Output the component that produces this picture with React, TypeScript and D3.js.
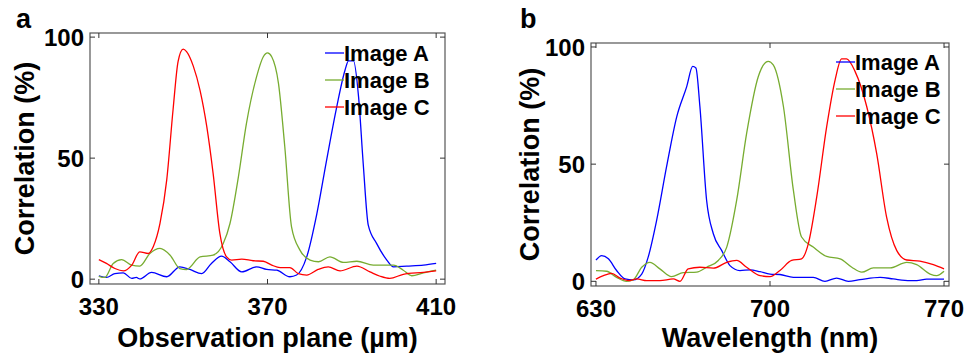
import React from "react";
import * as d3 from "d3";

// panel a: observation plane (µm)
const planeA_x = [330, 331.8, 333.8, 335.8, 337.8, 338.9, 339.7, 342.5, 346.1, 349.2, 351.6, 354.4, 356.7, 359.1, 361.1, 363.9, 367.4, 369.8, 372.2, 375.3, 376.9, 379.3, 381.7, 384, 386.4, 388.4, 389.2, 390.4, 391.6, 392.7, 393.9, 395.9, 398.3, 399.9, 403, 407, 410];
const planeA_y = [1.4, 0.7, 2.3, 2.6, 0.3, 0.7, 0.1, 2.8, 1, 5.1, 4, 2.3, 6.5, 9.5, 7.2, 3, 5.1, 4, 3.7, 1, 1.7, 9.2, 27, 49, 71, 86.4, 90.2, 90.2, 75.3, 47.8, 22.3, 14.7, 7.9, 5.1, 5.4, 5.8, 6.5];
const planeB_x = [330, 331.4, 333.4, 335.4, 337.8, 339.7, 342.1, 344.5, 346.9, 349.2, 350.8, 354, 357.1, 359.5, 361.1, 363.1, 365, 367.4, 369, 370, 371, 372.6, 374.1, 375.7, 377.7, 380.1, 382.1, 384.8, 388, 391.2, 395.1, 399.9, 402.2, 404.2, 407, 410];
const planeB_y = [1.2, 0.7, 6.5, 8.1, 5.8, 5.4, 10.6, 12.7, 9.9, 4.4, 4, 9.2, 9.9, 14.7, 23, 42.3, 64.3, 83.6, 91.9, 93.5, 91.9, 80.9, 54.7, 21.6, 12, 7.9, 7.2, 9.2, 6.9, 7.4, 5.8, 5.8, 3.7, 1.4, 2.6, 3.7];
const planeC_x = [330, 331.8, 333.8, 335.8, 337.8, 339.7, 341.7, 342.9, 344.5, 346.1, 347.6, 348.8, 350, 350.8, 352.4, 354, 355.6, 357.1, 358.7, 360.3, 361.5, 363.9, 366.6, 369, 371, 373, 375.3, 377.3, 379.3, 382, 384.4, 387.2, 391.2, 394.3, 396.7, 399, 402.2, 407, 410];
const planeC_y = [8.1, 6.5, 4.4, 3.4, 5.8, 11.3, 10.6, 13.4, 23, 41, 70, 90, 95, 94, 88, 78, 63, 43.7, 18.9, 9.2, 7.9, 8.3, 7.6, 7.4, 5.8, 4.8, 4.8, 2.3, 1.7, 4, 5.1, 3.4, 5.4, 3, 1.2, 0.3, 2, 2.8, 3.4];

// panel b: wavelength (nm)
const waveA_x = [630, 632.3, 635, 638.3, 641.7, 645, 648.4, 651, 654.4, 658.4, 662.5, 666.5, 668.9, 670.2, 671.8, 674.5, 677.2, 680.6, 683.9, 687.9, 692, 696, 700, 704, 709.4, 717.4, 722.1, 726.8, 731.5, 736.2, 744.3, 749.6, 756.3, 759, 763, 770];
const waveA_y = [9.1, 11, 9.6, 4.6, 1, 0.6, 3.1, 10.3, 26, 48.9, 70.3, 83.1, 91.7, 91, 74.6, 34.6, 20.3, 13.1, 6.7, 4.6, 4.9, 4.1, 3.1, 2.9, 1.7, 1.7, 0, 1.4, 0, 0.7, 1.7, 1, 0.3, 0.3, 0.9, 0.9];
const waveB_x = [630, 634.3, 638.3, 642.3, 645, 648.4, 651.7, 655.7, 660.4, 665.1, 670.5, 674.5, 679.2, 682.6, 686.6, 690.6, 695.3, 699.3, 701.3, 705.4, 709.4, 712.7, 717.4, 722.8, 728.2, 732.9, 736.9, 741.6, 748.3, 755, 759, 764.4, 767, 770];
const waveB_y = [4.6, 4.3, 1.7, 0, 0.6, 6, 8.1, 5.3, 2, 3.7, 3.9, 6, 8.9, 14.6, 34.6, 63.1, 87.4, 93.9, 92.4, 74.6, 38.9, 18.9, 14.6, 10.6, 9.6, 6, 3.9, 5.7, 5.7, 8.1, 7.1, 3.1, 2.4, 4.3];
const waveC_x = [630, 633, 636.3, 639.7, 643, 646.4, 650.4, 655.7, 661.1, 663.8, 667.1, 671.8, 677.2, 682.6, 686.6, 690.6, 696, 700, 704, 708.7, 712.7, 715.4, 718.8, 722.8, 726.2, 728.8, 730.8, 734.2, 738.9, 742.9, 746.9, 751, 755, 760.3, 765.7, 770];
const waveC_y = [0.9, 2.4, 3.4, 1.4, 0.3, 1, 0.3, 0.3, 1, 0, 5.3, 6, 5.6, 8.1, 8.9, 6, 2.4, 2, 4.6, 8.9, 9.6, 16, 36, 66, 86, 94.9, 94.9, 89.6, 74.6, 54.6, 27.4, 13.1, 9.1, 8.6, 7.1, 5.3];

const seriesNames = ["Image A", "Image B", "Image C"];
const seriesColors = ["#0000ff", "#77ac30", "#ff0000"];
const yTicks = [0, 50, 100];
const planeTicks = [330, 370, 410];
const waveTicks = [630, 700, 770];

const FONT = "'Liberation Sans', Arial, sans-serif";

type PanelProps = {
  letter: string;
  xLabel: string;
  xDomain: [number, number];
  xTicks: number[];
  xs: number[][];
  ys: number[][];
  box: { left: number; right: number; top: number; bottom: number };
  legend: { lineX: number; y0: number };
  letterX: number;
  yLabelX: number;
};

function Panel({ letter, xLabel, xDomain, xTicks, xs, ys, box, legend, letterX, yLabelX }: PanelProps) {
  const x = d3.scaleLinear().domain(xDomain).range([box.left, box.right]);
  const y = d3.scaleLinear().domain([-2, 101.7]).range([box.bottom, box.top]);
  const tick = 5;
  const midX = (box.left + box.right) / 2;
  const midY = (box.top + box.bottom) / 2;

  return (
    <g fontFamily={FONT} fontWeight="bold">
      <text x={letterX} y={28} fontSize={27}>{letter}</text>

      {/* curves */}
      {xs.map((xv, i) => {
        const pts: [number, number][] = xv.map((v, j) => [v, ys[i][j]]);
        const line = d3
          .line<[number, number]>()
          .x((d) => x(d[0]))
          .y((d) => y(d[1]))
          .curve(d3.curveMonotoneX);
        return (
          <path key={i} d={line(pts) || ""} fill="none" stroke={seriesColors[i]} strokeWidth={1.3} />
        );
      })}

      {/* box + inward ticks */}
      <rect
        x={box.left}
        y={box.top}
        width={box.right - box.left}
        height={box.bottom - box.top}
        fill="none"
        stroke="#555"
        strokeWidth={1.2}
      />
      {xTicks.map((t) => (
        <g key={"x" + t}>
          <line x1={x(t)} x2={x(t)} y1={box.bottom} y2={box.bottom - tick} stroke="#333" />
          <line x1={x(t)} x2={x(t)} y1={box.top} y2={box.top + tick} stroke="#333" />
          <text x={x(t)} y={box.bottom + 31} fontSize={24} textAnchor="middle">{t}</text>
        </g>
      ))}
      {yTicks.map((t) => (
        <g key={"y" + t}>
          <line x1={box.left} x2={box.left + tick} y1={y(t)} y2={y(t)} stroke="#333" />
          <line x1={box.right} x2={box.right - tick} y1={y(t)} y2={y(t)} stroke="#333" />
          <text x={box.left - 6} y={y(t)} dy="0.36em" fontSize={24} textAnchor="end">{t}</text>
        </g>
      ))}

      <text x={midX} y={347} fontSize={27} textAnchor="middle">{xLabel}</text>
      <text
        transform={`translate(${yLabelX},${midY}) rotate(-90)`}
        fontSize={27}
        textAnchor="middle"
        dy="0.35em"
      >
        Correlation (%)
      </text>

      {/* legend */}
      {seriesNames.map((name, i) => {
        const ly = legend.y0 + i * 27;
        return (
          <g key={name}>
            <line x1={legend.lineX} x2={legend.lineX + 19} y1={ly} y2={ly} stroke={seriesColors[i]} strokeWidth={1.3} />
            <text x={legend.lineX + 19} y={ly} dy="0.36em" fontSize={22}>{name}</text>
          </g>
        );
      })}
    </g>
  );
}

export default function App() {
  return (
    <svg
      width={971}
      height={354}
      style={{ position: "absolute", left: 0, top: 0, background: "#fff" }}
    >
      <Panel
        letter="a"
        xLabel="Observation plane (µm)"
        xDomain={[327.9, 412.1]}
        xTicks={planeTicks}
        xs={[planeA_x, planeB_x, planeC_x]}
        ys={[planeA_y, planeB_y, planeC_y]}
        box={{ left: 90, right: 445, top: 33, bottom: 284 }}
        legend={{ lineX: 325, y0: 53 }}
        letterX={16}
        yLabelX={25}
      />
      <Panel
        letter="b"
        xLabel="Wavelength (nm)"
        xDomain={[628, 772]}
        xTicks={waveTicks}
        xs={[waveA_x, waveB_x, waveC_x]}
        ys={[waveA_y, waveB_y, waveC_y]}
        box={{ left: 591, right: 949, top: 43, bottom: 286 }}
        legend={{ lineX: 836, y0: 62 }}
        letterX={520}
        yLabelX={530}
      />
    </svg>
  );
}
